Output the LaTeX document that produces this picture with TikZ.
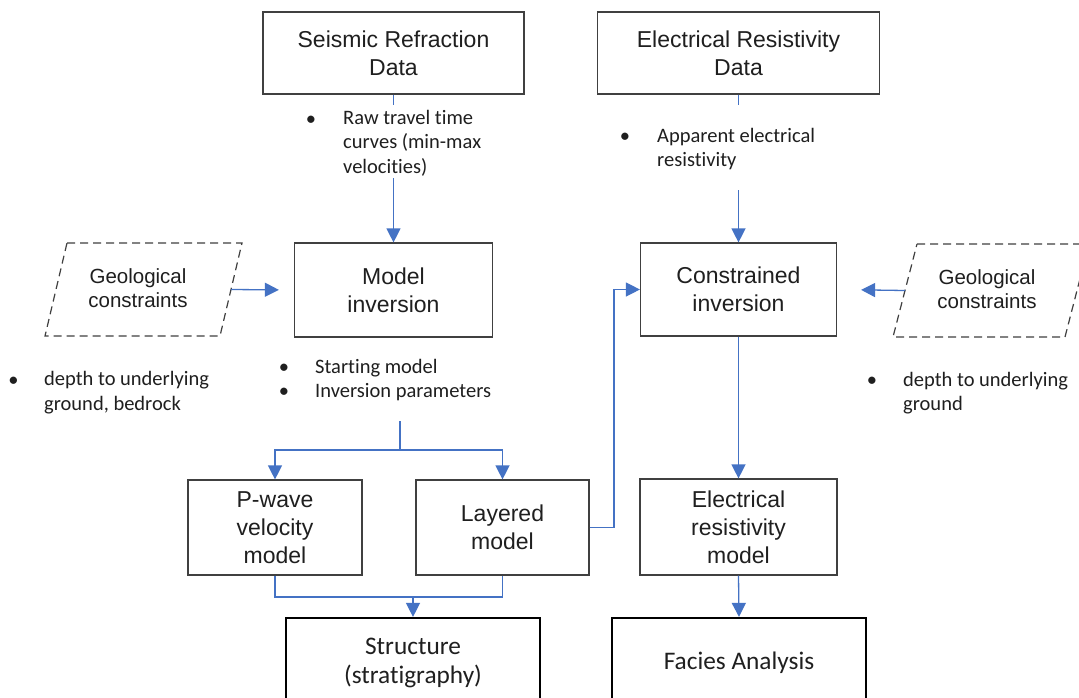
\documentclass[tikz,border=0pt]{standalone}
\usepackage{fontspec}
\setmainfont{Liberation Sans}
\newfontfamily\carlito{Carlito}[Ligatures=NoCommon]
\usetikzlibrary{arrows.meta}
\definecolor{flow}{HTML}{4472C4}
\definecolor{boxline}{HTML}{404040}
\definecolor{txt}{HTML}{1F1F1F}
\begin{document}
\begin{tikzpicture}[x=1pt,y=-1pt,
  box/.style={draw=boxline, line width=1.2pt, inner sep=0pt, align=center, text=txt, font=\fontsize{23}{28}\selectfont},
  endbox/.style={draw=black, line width=2.2pt, inner sep=0pt, align=center, text=txt, font=\carlito\fontsize{25.3}{29}\selectfont, minimum width=254pt, minimum height=89pt},
  notetext/.style={inner sep=0pt, align=left, anchor=base west, text=txt, font=\carlito\fontsize{20.5}{24.3}\selectfont},
  bulletmark/.style={inner sep=0pt, anchor=base, text=txt, font=\carlito\fontsize{20.5}{24.3}\selectfont},
  link/.style={draw=flow, line width=1.3pt},
  arr/.style={link, -{Triangle[width=14pt,length=14pt]}},
  geo/.style={draw=boxline, line width=1.2pt, dash pattern=on 8pt off 5pt},
  geotext/.style={inner sep=0pt, align=center, text=txt, font=\fontsize{20.5}{23.5}\selectfont}
]
\useasboundingbox (0,0) rectangle (1079,697);
\fill[white] (0,0) rectangle (1079,697);
\clip (0,0) rectangle (1079,697);

% boxes
\node[box, minimum width=261pt, minimum height=82pt] (seis) at (393.5,53) {Seismic Refraction\\Data};
\node[box, minimum width=282pt, minimum height=82pt] (erd) at (738.5,53) {Electrical Resistivity\\Data};
\node[box, minimum width=198pt, minimum height=94pt] (minv) at (393.5,290) {Model\\inversion};
\node[box, minimum width=196pt, minimum height=93pt] (cinv) at (738.5,289.5) {Constrained\\inversion};
\node[box, minimum width=174pt, minimum height=95pt] (pwave) at (275,527.5) {P-wave\\velocity\\model};
\node[box, minimum width=173pt, minimum height=95pt] (layer) at (502.5,527.5) {Layered\\model};
\node[box, minimum width=197pt, minimum height=96pt] (erm) at (738.5,527) {Electrical\\resistivity\\model};
\node[endbox] (struct) at (413,662.5) {Structure\\(stratigraphy)};
\node[endbox] (facies) at (739,662.5) {Facies Analysis};

% geological constraints (parallelograms)
\draw[geo] (67,243) -- (242,243) -- (220,336) -- (45,336) -- cycle;
\node[geotext] (geoL) at (138,288) {Geological\\constraints};
\draw[geo] (917,244) -- (1089,244) -- (1065,337) -- (893,337) -- cycle;
\node[geotext] (geoR) at (987,289) {Geological\\constraints};

% notes (anchored at the baseline of their last line)
\node[bulletmark] (b1) at (311,125) {•};
\node[notetext] (n1) at (343,173) {Raw travel time\\curves (min-max\\velocities)};
\node[bulletmark] (b2) at (625,142.7) {•};
\node[notetext] (n2) at (657,166.7) {Apparent electrical\\resistivity};
\node[bulletmark] (b3) at (284,373.3) {•};
\node[bulletmark] (b4) at (284,397.7) {•};
\node[notetext] (n3) at (315,397.7) {Starting model\\Inversion parameters};
\node[bulletmark] (b5) at (13.5,386) {•};
\node[notetext] (n4) at (44,410) {depth to underlying\\ground, bedrock};
\node[bulletmark] (b6) at (872,386.5) {•};
\node[notetext] (n5) at (903,410.5) {depth to underlying\\ground};

% coordinates
\coordinate (s1) at (393.5,105);
\coordinate (s2) at (393.5,178);
\coordinate (e1) at (738.5,105);
\coordinate (e2) at (738.5,190);
\coordinate (gL) at (231,289.5);
\coordinate (gR) at (905,290.5);
\coordinate (m1) at (400,421);
\coordinate (m2) at (400,450);
\coordinate (jn) at (413,597);
\coordinate (lc) at (614,400);

% connectors
\draw[link] (seis.south) -- (s1);
\draw[arr] (s2) -- (minv.north);
\draw[link] (erd.south) -- (e1);
\draw[arr] (e2) -- (cinv.north);
\draw[arr, shorten >=15pt] (gL) -- (minv.west);
\draw[arr, shorten >=24pt] (gR) -- (cinv.east);
\draw[link] (m1) -- (m2);
\draw[arr] (m2) -| (pwave.north);
\draw[arr] (m2) -| (layer.north);
\draw[link] (pwave.south) |- (jn) -| (layer.south);
\draw[arr] (jn) -- (struct.north);
\draw[arr] (layer.east) -| (lc |- cinv.west) -- (cinv.west);
\draw[arr] (cinv.south) -- (erm.north);
\draw[arr] (erm.south) -- (facies.north);
\end{tikzpicture}
\end{document}
